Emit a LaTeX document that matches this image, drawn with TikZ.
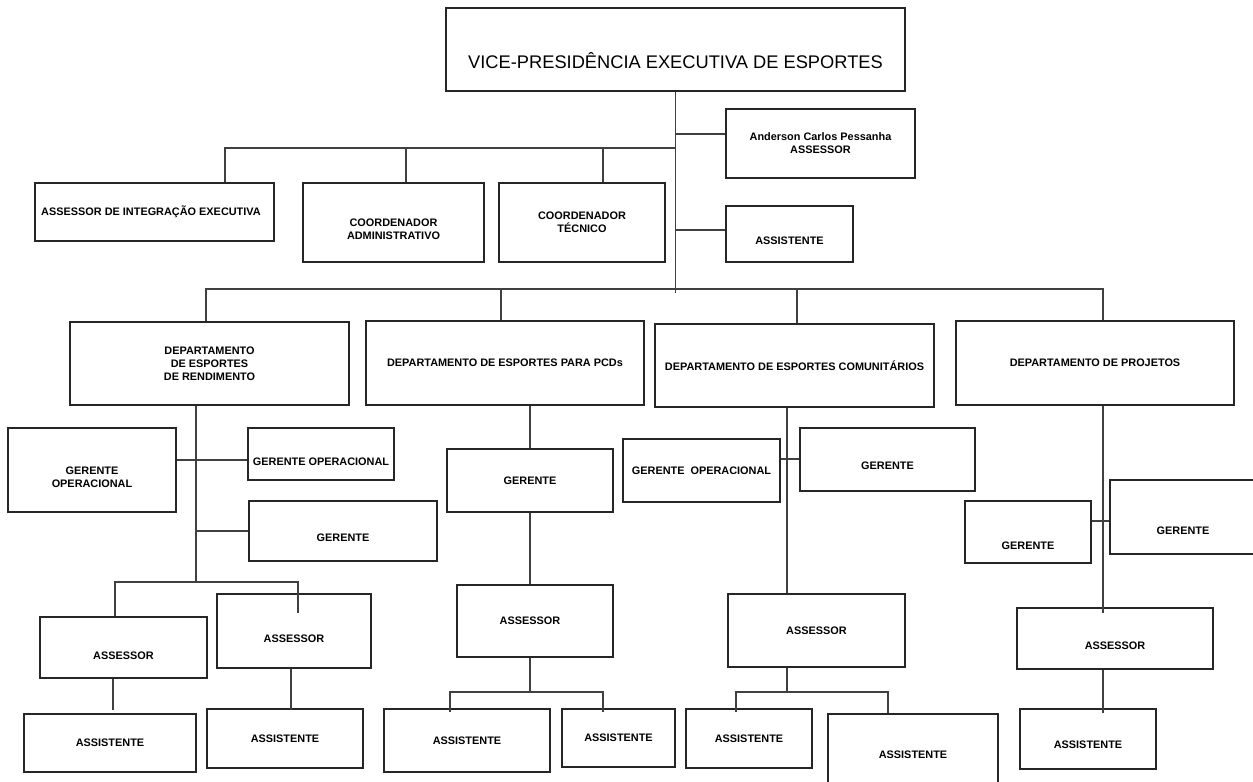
\documentclass[tikz,border=0pt]{standalone}
\usepackage{fontspec}
\setmainfont{Liberation Sans}
\usetikzlibrary{fit}

\begin{document}
\begin{tikzpicture}[
	x=0.02cm, y=-0.02cm,
	every node/.style={font=\bfseries\fontsize{6.2}{7.3}\selectfont, align=center},
	every label/.style={font=\bfseries\fontsize{6.2}{7.3}\selectfont, align=center},
	orgbox/.style={rectangle, draw=black!85, line width=1.1pt, inner sep=0pt},
	link/.style={draw=black!75, line width=1pt}
	]

	\useasboundingbox (0,0) rectangle (1253,781);

	% top level
	\node (vp) [orgbox, fit={(446,8) (905,91)}, label={[font=\fontsize{10.4}{12}\selectfont, yshift=-0.22cm]center:VICE-PRESIDÊNCIA EXECUTIVA DE ESPORTES}] {};
	\node (and) [orgbox, fit={(726,109) (915,178)}, label={center:{Anderson Carlos Pessanha\\ASSESSOR}}] {};
	\node (aie) [orgbox, fit={(35,183) (274,241)}, label={[xshift=-0.07cm]center:ASSESSOR DE INTEGRAÇÃO EXECUTIVA}] {};
	\node (cad) [orgbox, fit={(303,183) (484,262)}, label={[yshift=-0.14cm]center:{COORDENADOR\\ADMINISTRATIVO}}] {};
	\node (cte) [orgbox, fit={(499,183) (665,262)}, label={center:{COORDENADOR\\TÉCNICO}}] {};
	\node (ast) [orgbox, fit={(726,206) (853,262)}, label={[yshift=-0.14cm]center:ASSISTENTE}] {};

	% departments
	\node (dep1) [orgbox, fit={(70,322) (349,405)}, label={center:{DEPARTAMENTO\\DE ESPORTES\\DE RENDIMENTO}}] {};
	\node (dep2) [orgbox, fit={(366,321) (644,405)}, label={center:DEPARTAMENTO DE ESPORTES PARA PCDs}] {};
	\node (dep3) [orgbox, fit={(655,324) (934,407)}, label={center:DEPARTAMENTO DE ESPORTES COMUNITÁRIOS}] {};
	\node (dep4) [orgbox, fit={(956,321) (1234,405)}, label={center:DEPARTAMENTO DE PROJETOS}] {};

	% rendimento
	\node (gol) [orgbox, fit={(8,428) (176,512)}, label={[yshift=-0.14cm]center:{GERENTE\\OPERACIONAL}}] {};
	\node (gor) [orgbox, fit={(248,428) (394,480)}, label={[yshift=-0.16cm]center:GERENTE OPERACIONAL}] {};
	\node (ge1) [orgbox, fit={(249,501) (437,561)}, label={[yshift=-0.14cm]center:GERENTE}] {};
	\node (asl) [orgbox, fit={(40,617) (207,678)}, label={[yshift=-0.16cm]center:ASSESSOR}] {};
	\node (asr) [orgbox, fit={(217,594) (371,668)}, label={[yshift=-0.16cm]center:ASSESSOR}] {};
	\node (ai1) [orgbox, fit={(24,714) (196,772)}, label={center:ASSISTENTE}] {};
	\node (ai2) [orgbox, fit={(207,709) (363,768)}, label={center:ASSISTENTE}] {};

	% pcds
	\node (ge2) [orgbox, fit={(447,449) (613,512)}, label={center:GERENTE}] {};
	\node (as2) [orgbox, fit={(457,585) (613,657)}, label={[xshift=-0.1cm]center:ASSESSOR}] {};
	\node (ai3) [orgbox, fit={(384,709) (550,772)}, label={center:ASSISTENTE}] {};
	\node (ai4) [orgbox, fit={(562,709) (675,767)}, label={center:ASSISTENTE}] {};

	% comunitarios
	\node (goc) [orgbox, fit={(623,439) (780,502)}, label={center:GERENTE \ OPERACIONAL}] {};
	\node (gec) [orgbox, fit={(800,428) (975,491)}, label={[yshift=-0.12cm]center:GERENTE}] {};
	\node (as3) [orgbox, fit={(728,594) (905,667)}, label={center:ASSESSOR}] {};
	\node (ai5) [orgbox, fit={(686,709) (812,768)}, label={center:ASSISTENTE}] {};
	\node (ai6) [orgbox, fit={(828,714) (998,796)}, label={center:ASSISTENTE}] {};

	% projetos
	\node (gpl) [orgbox, fit={(965,501) (1091,563)}, label={[yshift=-0.28cm]center:GERENTE}] {};
	\node (gpr) [orgbox, fit={(1110,480) (1256,554)}, label={[yshift=-0.28cm]center:GERENTE}] {};
	\node (as4) [orgbox, fit={(1017,608) (1213,669)}, label={[yshift=-0.14cm]center:ASSESSOR}] {};
	\node (ai7) [orgbox, fit={(1020,709) (1156,769)}, label={[yshift=-0.12cm]center:ASSISTENTE}] {};

	% junctions
	\coordinate (jand) at (675,134);
	\coordinate (jtop) at (675,148);
	\coordinate (jast) at (675,230);
	\coordinate (jdep) at (675,289);
	\coordinate (jbot) at (675,293);
	\coordinate (j1a) at (196,460);
	\coordinate (j1) at (196,582);
	\coordinate (j2) at (530,692);
	\coordinate (j3) at (787,459);
	\coordinate (j3b) at (787,692);
	\coordinate (j4) at (1103,521);
	\coordinate (j4a) at (1103,613);
	\coordinate (j4b) at (1103,713);

	% top links
	\draw [link] (vp.south) -- (vp.south |- jbot);
	\draw [link] (jand) -- (jand -| and.west);
	\draw [link] (jast) -- (jast -| ast.west);
	\foreach \n/\dx in {aie/1.41, cad/0.25, cte/0.42}
		\draw [link] (jtop) -| ([xshift=\dx cm]\n.north);
	\foreach \n/\dx in {dep1/-0.07, dep2/-0.08, dep3/0.05, dep4/0.16}
		\draw [link] (jdep) -| ([xshift=\dx cm]\n.north);

	% rendimento links
	\draw [link] ([xshift=-0.27cm]dep1.south) -- (j1);
	\draw [link] (gol.east |- j1a) -- (gor.west |- j1a);
	\draw [link] (j1 |- ge1.west) -- (ge1.west);
	\draw [link] ([xshift=-0.17cm]asl.north) |- (j1) -| ([xshift=0.08cm, yshift=-0.4cm]asr.north);
	\draw [link] ([xshift=-0.21cm]asl.south) -- ++(0,31);
	\draw [link] ([xshift=-0.06cm]asr.south) -- ++(0,41);

	% pcds links
	\draw [link] (ge2.north |- dep2.south) -- (ge2.north);
	\draw [link] (ge2.south) -- (ge2.south |- as2.north);
	\draw [link] (ge2.south |- as2.south) -- (j2);
	\draw [link] ([xshift=-0.34cm, yshift=-0.08cm]ai3.north) |- (j2) -| ([xshift=-0.31cm, yshift=-0.08cm]ai4.north);

	% comunitarios links
	\draw [link] (dep3.south -| j3) -- (as3.north -| j3);
	\draw [link] (goc.east |- j3) -- (gec.west |- j3);
	\draw [link] (as3.south -| j3b) -- (j3b);
	\draw [link] ([xshift=-0.26cm, yshift=-0.08cm]ai5.north) |- (j3b) -| ([xshift=-0.5cm]ai6.north);

	% projetos links
	\draw [link] (dep4.south -| j4) -- (j4a);
	\draw [link] (gpl.east |- j4) -- (gpr.west |- j4);
	\draw [link] (as4.south -| j4) -- (j4b);
\end{tikzpicture}
\end{document}
